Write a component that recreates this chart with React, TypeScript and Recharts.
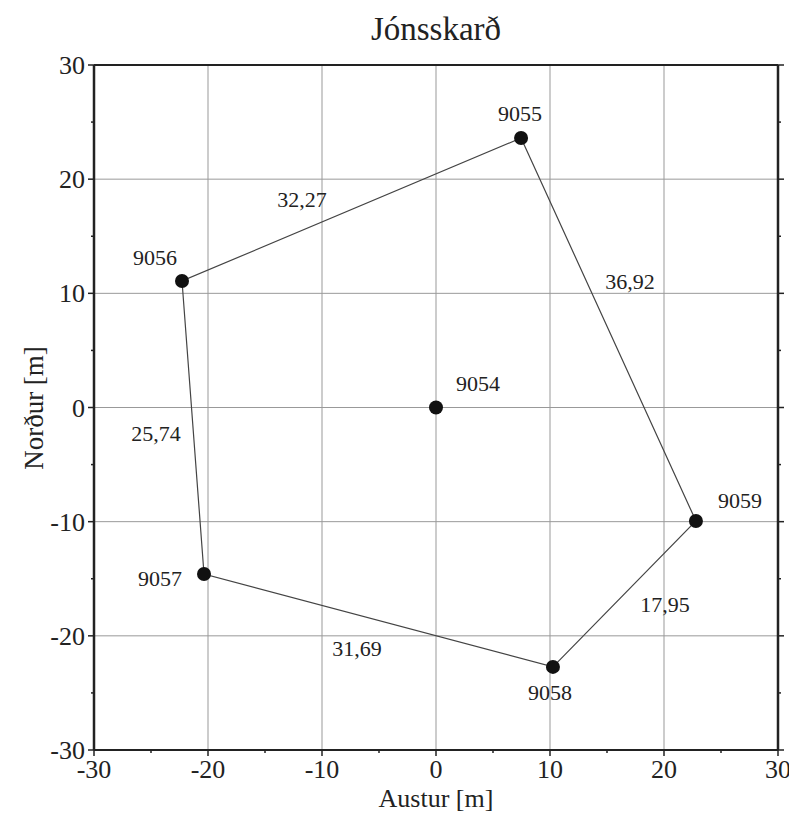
import React from 'react';
import { ScatterChart, Scatter, XAxis, YAxis, CartesianGrid } from 'recharts';

const FONT = '"Liberation Serif", "Times New Roman", Times, serif';

// survey stations (east, north) in metres
const stationNames = ['9054', '9055', '9056', '9057', '9058', '9059'];
const stationEast = [0, 7.46, -22.28, -20.35, 10.26, 22.8];
const stationNorth = [0, 23.6, 11.08, -14.58, -22.72, -9.94];

// closed traverse around the centre point
const ringOrder = ['9055', '9056', '9057', '9058', '9059', '9055'];

// side lengths and where their text sits
const edgeLengths = ['32,27', '25,74', '31,69', '17,95', '36,92'];
const edgeLabelEast = [-11.75, -24.56, -6.93, 20.09, 17.02];
const edgeLabelNorth = [18.2, -2.23, -21.1, -17.2, 11.08];

const axisTicks = [-30, -25, -20, -15, -10, -5, 0, 5, 10, 15, 20, 25, 30];
const gridValues = [-20, -10, 0, 10, 20];

// pixel offsets of station names from their dot
const nameOffset: Record<string, [number, number]> = {
  '9054': [42, -24],
  '9055': [-1, -25],
  '9056': [-27, -24],
  '9057': [-44, 4],
  '9058': [-3, 25],
  '9059': [44, -21],
};

const stations = stationNames.map((name, i) => ({ name, x: stationEast[i], y: stationNorth[i] }));
const ring = ringOrder.map((n) => stations.find((s) => s.name === n)!);
const edgeLabels = edgeLengths.map((text, i) => ({ text, x: edgeLabelEast[i], y: edgeLabelNorth[i] }));

const textStyle = { fontFamily: FONT };

type Side = 'left' | 'right' | 'top' | 'bottom';

const makeTick = (side: Side, showText: boolean) => (props: any) => {
  const { x, y, payload } = props;
  const v = payload.value;
  const major = v % 10 === 0;
  const len = major ? 6 : 3;
  let line;
  if (side === 'bottom') line = <line x1={x} x2={x} y1={y} y2={y + len} stroke="#222" strokeWidth={1.5} />;
  else if (side === 'top') line = <line x1={x} x2={x} y1={y} y2={y - len} stroke="#222" strokeWidth={1.5} />;
  else if (side === 'left') line = <line x1={x - len} x2={x} y1={y} y2={y} stroke="#222" strokeWidth={1.5} />;
  else line = <line x1={x} x2={x + len} y1={y} y2={y} stroke="#222" strokeWidth={1.5} />;
  let text = null;
  if (showText && major) {
    if (side === 'bottom')
      text = (
        <text x={x} y={y + 19} dy="0.35em" textAnchor="middle" fontSize={26} fill="#222" style={textStyle}>
          {v}
        </text>
      );
    else
      text = (
        <text x={x - 9} y={y} dy="0.35em" textAnchor="end" fontSize={26} fill="#222" style={textStyle}>
          {v}
        </text>
      );
  }
  return (
    <g>
      {line}
      {text}
    </g>
  );
};

const StationDot = (props: any) => {
  const { cx, cy, payload } = props;
  const [dx, dy] = nameOffset[payload.name] || [0, -24];
  return (
    <g>
      <circle cx={cx} cy={cy} r={7} fill="#111" />
      <text x={cx + dx} y={cy + dy} dy="0.35em" textAnchor="middle" fontSize={22} fill="#222" style={textStyle}>
        {payload.name}
      </text>
    </g>
  );
};

const EdgeText = (props: any) => {
  const { cx, cy, payload } = props;
  return (
    <text x={cx} y={cy} dy="0.35em" textAnchor="middle" fontSize={22} fill="#222" style={textStyle}>
      {payload.text}
    </text>
  );
};

export default function App() {
  return (
    <div style={{ position: 'relative', width: 789, height: 805, fontFamily: FONT, color: '#222' }}>
      <style>{'body{overflow:hidden}'}</style>
      <div
        style={{ position: 'absolute', left: 228, width: 400, top: 5, fontSize: 33, lineHeight: '33px', textAlign: 'center' }}
      >
        Jónsskarð
      </div>
      <ScatterChart width={789} height={800} margin={{ top: 56, right: 18, bottom: 57, left: 85 }}>
        <CartesianGrid
          stroke="#999"
          strokeWidth={1}
          horizontalValues={gridValues}
          verticalValues={gridValues}
        />
        <XAxis
          type="number"
          dataKey="x"
          domain={[-30, 30]}
          ticks={axisTicks}
          interval={0}
          height={1}
          tickSize={0}
          tickMargin={0}
          tickLine={false}
          axisLine={{ stroke: '#222', strokeWidth: 2 }}
          tick={makeTick('bottom', true)}
          allowDataOverflow
        />
        <XAxis
          xAxisId="top"
          orientation="top"
          type="number"
          domain={[-30, 30]}
          ticks={axisTicks}
          interval={0}
          height={1}
          tickSize={0}
          tickMargin={0}
          tickLine={false}
          axisLine={{ stroke: '#222', strokeWidth: 2 }}
          tick={makeTick('top', false)}
          allowDataOverflow
        />
        <YAxis
          type="number"
          dataKey="y"
          domain={[-30, 30]}
          ticks={axisTicks}
          interval={0}
          width={1}
          tickSize={0}
          tickMargin={0}
          tickLine={false}
          axisLine={{ stroke: '#222', strokeWidth: 2.5 }}
          tick={makeTick('left', true)}
          allowDataOverflow
        />
        <YAxis
          yAxisId="right"
          orientation="right"
          type="number"
          domain={[-30, 30]}
          ticks={axisTicks}
          interval={0}
          width={1}
          tickSize={0}
          tickMargin={0}
          tickLine={false}
          axisLine={{ stroke: '#222', strokeWidth: 2.5 }}
          tick={makeTick('right', false)}
          allowDataOverflow
        />
        <Scatter
          data={ring}
          line={{ stroke: '#444', strokeWidth: 1.2 }}
          shape={() => <g />}
          isAnimationActive={false}
        />
        <Scatter data={stations} shape={StationDot} isAnimationActive={false} />
        <Scatter data={edgeLabels} shape={EdgeText} isAnimationActive={false} />
      </ScatterChart>
      <div
        style={{ position: 'absolute', left: 228, width: 400, top: 779.5, fontSize: 26, lineHeight: '22px', textAlign: 'center' }}
      >
        Austur [m]
      </div>
      <div
        style={{
          position: 'absolute',
          left: -74,
          width: 200,
          top: 388.5,
          fontSize: 27,
          lineHeight: '22px',
          textAlign: 'center',
          transform: 'rotate(-90deg)',
        }}
      >
        Norður [m]
      </div>
    </div>
  );
}
